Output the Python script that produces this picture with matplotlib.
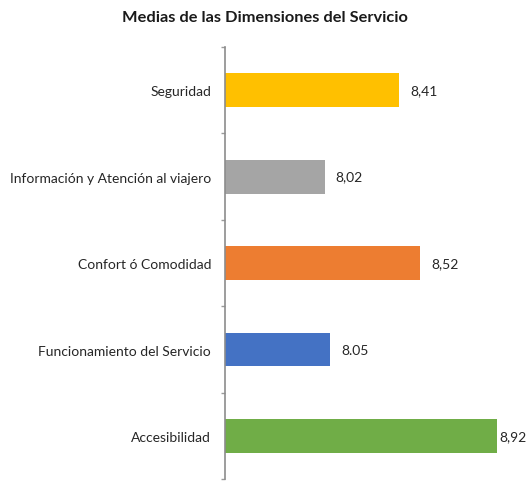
import numpy as np
import matplotlib.pyplot as plt

# datos
dimensiones = ["Seguridad", "Información y Atención al viajero", "Confort ó Comodidad",
               "Funcionamiento del Servicio", "Accesibilidad"]
medias = [8.41, 8.02, 8.52, 8.05, 8.92]
etiquetas = ["8,41", "8,02", "8,52", "8.05", "8,92"]
colores = ["#FFC000", "#A5A5A5", "#ED7D31", "#4472C4", "#70AD47"]

plt.rcParams["font.family"] = ["Lato", "DejaVu Sans"]

fig = plt.figure(figsize=(5.3, 4.85), dpi=100)
ax = fig.add_axes([0.4245, 0.01, 0.542, 0.891])

y = np.arange(len(dimensiones))
ax.barh(y, medias, height=0.39, color=colores, left=0)
ax.set_xlim(7.5, 9.0)
ax.set_ylim(len(dimensiones) - 0.5, -0.5)

for i, (v, t) in enumerate(zip(medias, etiquetas)):
    dx = 2 if i == len(medias) - 1 else 8
    ax.annotate(t, (v, i), xytext=(dx, 0), textcoords="offset points",
                va="center", ha="left", fontsize=10, color="#262626",
                annotation_clip=False)

ax.set_yticks(y)
ax.set_yticklabels(dimensiones, fontsize=10, color="#262626")
ax.set_yticks(np.arange(-0.5, len(dimensiones)), minor=True)
ax.tick_params(axis="y", which="major", length=0, pad=10)
ax.tick_params(axis="y", which="minor", length=3, color="#9a9a9a", width=1)
ax.set_xticks([])

for s in ["top", "right", "bottom"]:
    ax.spines[s].set_visible(False)
ax.spines["left"].set_color("#8c8c8c")
ax.spines["left"].set_linewidth(1.2)

fig.text(0.5, 0.963, "Medias de las Dimensiones del Servicio", ha="center", va="center",
         fontsize=11.8, fontweight="bold", color="#1a1a1a")

fig.savefig("out.png", dpi=100)
